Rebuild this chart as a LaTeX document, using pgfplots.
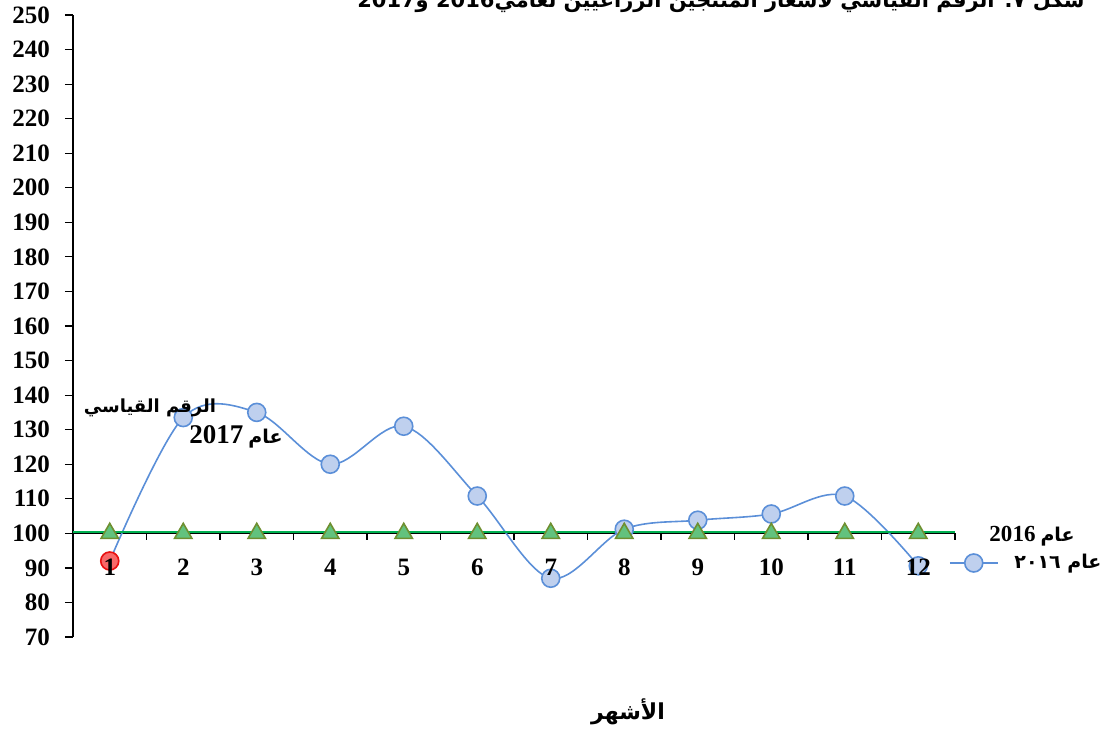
\documentclass[border=0pt]{standalone}
\usepackage{fontspec}
\setmainfont{Liberation Serif}
\newfontfamily\arabicfont[Script=Arabic]{DejaVu Sans}
\TeXXeTstate=1
\usepackage{pgfplots}
\pgfplotsset{compat=1.18}
\pgfplotsset{mylegend/.style={legend image code/.code={\draw[##1, mark indices={2}] plot coordinates {(0cm,0cm) (0.42cm,0cm) (0.84cm,0cm)};}}}
\definecolor{blueline}{HTML}{5B8FD8}
\definecolor{bluefill}{HTML}{BFD0EE}
\definecolor{blueedge}{HTML}{5B8FD8}
\definecolor{greenline}{HTML}{00B050}
\definecolor{trifill}{HTML}{62C27E}
\definecolor{triedge}{HTML}{6F8F30}
\definecolor{redfill}{HTML}{F86868}
\definecolor{rededge}{HTML}{E81010}
\begin{document}
\begin{tikzpicture}
\begin{axis}[
  at={(36.5pt,49.5pt)}, anchor=south west,
  scale only axis, width=441pt, height=311pt,
  xmin=0.5, xmax=12.5, ymin=70, ymax=250,
  axis lines=left, axis line style={-, black, line width=0.6pt},
  x axis line style={draw=none},
  xtick=\empty,
  ytick={70,80,...,250}, tick align=outside, major tick length=4pt,
  tick style={black, line width=0.6pt},
  yticklabel style={font=\bfseries\fontsize{12.5}{13}\selectfont, xshift=-4pt},
  /pgf/number format/assume math mode=true,
  clip=false,
  legend style={at={(axis description cs:0.986,0.119)}, anchor=west, draw=none, fill=none,
    font=\arabicfont\bfseries\fontsize{9.5}{11}\selectfont},
]
\draw[black, line width=0.6pt] (axis cs:0.5,100) -- (axis cs:12.5,100);
\pgfplotsinvokeforeach{1.5,2.5,3.5,4.5,5.5,6.5,7.5,8.5,9.5,10.5,11.5,12.5}{
  \draw[black, line width=0.6pt] (axis cs:#1,100) -- ([yshift=-3.5pt]axis cs:#1,100);
}
\addplot[only marks, mark=*, mark size=4.5pt, mark options={fill=redfill, draw=rededge, line width=0.8pt}, forget plot]
  coordinates {(1,92)};
\addplot[blueline, line width=0.8pt, smooth, tension=0.55, mark=*, mark size=4.5pt,
  mark indices={2,3,4,5,6,7,8,9,10,11,12},
  mark options={fill=bluefill, draw=blueedge, line width=0.8pt}, mylegend]
  coordinates {(1,92) (2,133.5) (3,135) (4,120) (5,131) (6,110.8) (7,87) (8,101.2) (9,103.8) (10,105.6) (11,110.8) (12,90.6)};
\addlegendentry{\hspace*{6pt}٢٠١٦ \beginR عام\endR}
\draw[greenline, line width=1pt] (axis cs:0.5,100.3) -- (axis cs:12.5,100.3);
\addplot[draw=none, mark=triangle*, mark size=5pt,
  mark options={fill=trifill, draw=triedge, line width=0.8pt}, forget plot]
  coordinates {(1,100) (2,100) (3,100) (4,100) (5,100) (6,100) (7,100) (8,100) (9,100) (10,100) (11,100) (12,100)};
\addplot[only marks, mark=none, forget plot, point meta=explicit symbolic,
  nodes near coords, nodes near coords align=center,
  every node near coord/.append style={anchor=center, inner sep=0pt, black, font=\bfseries\fontsize{12.5}{13}\selectfont}]
  coordinates {(1,90.1) [1] (2,90.1) [2] (3,90.1) [3] (4,90.1) [4] (5,90.1) [5] (6,90.1) [6] (7,90.1) [7] (8,90.1) [8] (9,90.1) [9] (10,90.1) [10] (11,90.1) [11] (12,90.1) [12]};
\end{axis}
% texts
\node[anchor=base east, inner sep=0pt] at (542.5pt,364pt) {\arabicfont\bfseries\fontsize{10.5}{12}\selectfont\beginR شكل ٧: الرقم القياسي لأسعار المنتجين الزراعيين لعامي\beginL2016\endL{} و\beginL2017\endL\endR};
\node[inner sep=0pt] at (75pt,164pt) {\arabicfont\bfseries\fontsize{9}{12}\selectfont\beginR الرقم القياسي\endR};
\node[inner sep=0pt] at (118pt,149.5pt) {{\bfseries\fontsize{13.5}{14}\selectfont 2017} {\arabicfont\bfseries\fontsize{9.5}{12}\selectfont\beginR عام\endR}};
\node[inner sep=0pt] at (516pt,100pt) {{\bfseries\fontsize{11.5}{13}\selectfont 2016} {\arabicfont\bfseries\fontsize{9.5}{12}\selectfont\beginR عام\endR}};
\node[inner sep=0pt] at (314pt,12pt) {\arabicfont\bfseries\fontsize{11}{13}\selectfont\beginR الأشهر\endR};
\pgfresetboundingbox
\path[use as bounding box] (0,0) rectangle (553pt,368pt);
\end{tikzpicture}
\end{document}
